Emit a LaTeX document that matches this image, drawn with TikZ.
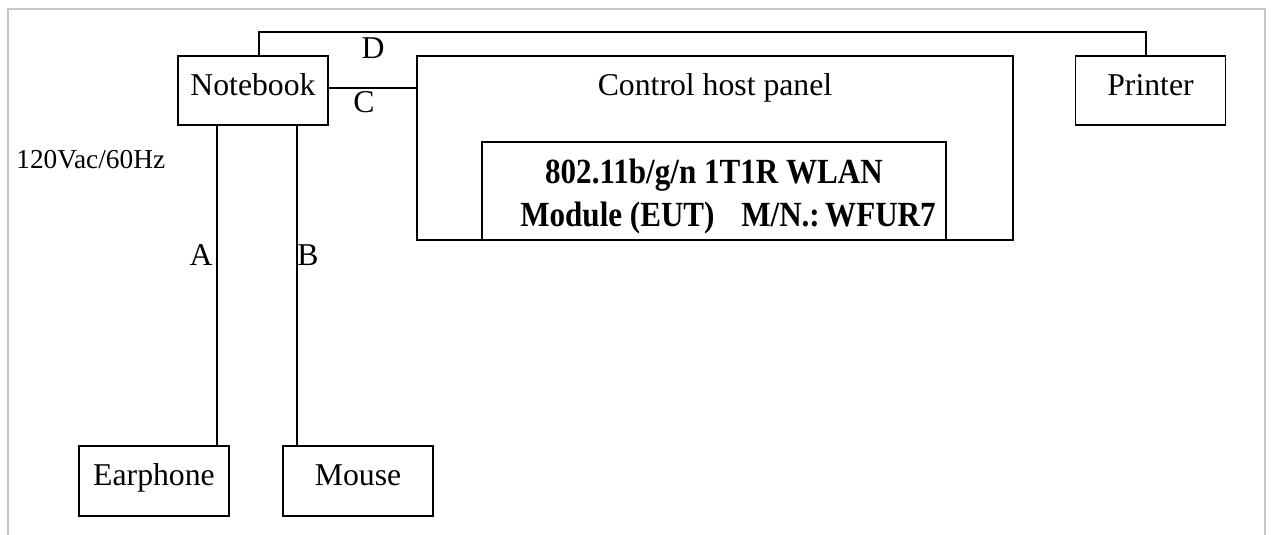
\documentclass[tikz,border=0pt]{standalone}
\usepackage{fontspec}
\setmainfont{Liberation Serif}
\newfontfamily\modfont[FakeStretch=0.88]{Liberation Serif}
\begin{document}
\begin{tikzpicture}[x=0.75pt,y=-0.75pt,line width=1.3pt,every node/.style={font=\fontsize{23.8}{28}\selectfont,inner sep=0pt},
unit/.style={draw,minimum width=112.5pt,minimum height=52pt,text height=16pt,text depth=9.2pt},
lbl/.style={anchor=base}]
\useasboundingbox (0,0) rectangle (1275,535);
\draw[gray!45,line width=0.9pt] (8,535) -- (8,9) -- (1265,9) -- (1265,535);
\node[unit] (nb) at (253,90.5) {Notebook};
\node[unit] (pr) at (1150.5,90.5) {Printer};
\node[unit,minimum height=52.5pt] (ea) at (154,481) {Earphone};
\node[unit,minimum height=52.5pt] (ms) at (358,481) {Mouse};
\node[draw,minimum width=447pt,minimum height=138pt] (cp) at (715,148) {};
\node[lbl] (cpt) at (715,95) {Control host panel};
\node[draw,minimum width=348pt,minimum height=73.5pt] (mod) at (714,191) {};
\node[align=center,font=\modfont\bfseries\fontsize{26.5}{32.25}\selectfont] (modt) at (714,197) {802.11b/g/n 1T1R WLAN\\\hspace*{21pt}Module (EUT)\hspace{20pt}M/N.:\hspace{4pt}WFUR7};
\coordinate (ea-top) at ([xshift=-9.75pt]ea.north east);
\coordinate (ms-top) at ([xshift=11.25pt]ms.north west);
\coordinate (nb-c) at ([yshift=1.9pt]nb.east);
\draw ([xshift=4.5pt]nb.north) -- ++(0,-23) -| ([xshift=-3.4pt]pr.north);
\draw (nb-c) -- (nb-c -| cp.west);
\draw (nb.south -| ea-top) -- (ea-top);
\draw (nb.south -| ms-top) -- (ms-top);
\node[lbl] (la) at (201,265) {A};
\node[lbl] (lb) at (308,265) {B};
\node[lbl] (lc) at (364,113) {C};
\node[lbl] (ld) at (373,59) {D};
\node[lbl,anchor=base west,font=\fontsize{20.5}{24}\selectfont] (pw) at (15.5,168) {120Vac/60Hz};
\end{tikzpicture}
\end{document}
